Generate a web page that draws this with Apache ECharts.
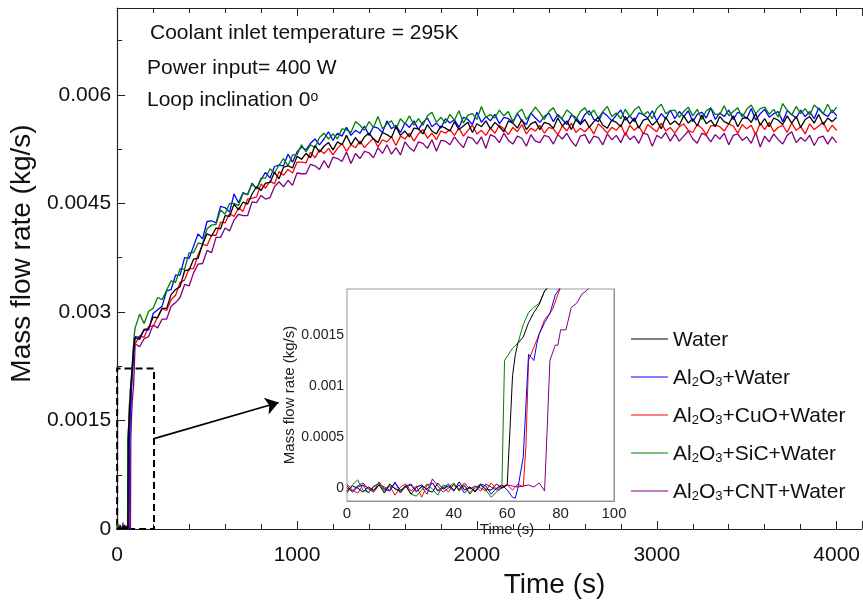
<!DOCTYPE html>
<html><head><meta charset="utf-8">
<script src="https://cdn.jsdelivr.net/npm/echarts@6/dist/echarts.min.js"></script>
<style>html,body{margin:0;padding:0;background:#fff}#c{width:863px;height:604px}</style>
</head><body><div id="c"></div>
<script>
const seriesNames = ['Water','Al2O3+Water','Al2O3+CuO+Water','Al2O3+SiC+Water','Al2O3+CNT+Water'];
const seriesColors = ['#000000','#0000ff','#ff0000','#008000','#800080'];
const mainTicksY = [0, 0.0015, 0.003, 0.0045, 0.006];
const insetTicksY = [0, 0.0005, 0.001, 0.0015];
const insetMinorY = [0,0.00025,0.0005,0.00075,0.001,0.00125,0.0015,0.00175];

const earlyTime = [0,2,4,6,8,10,12,14,16,18,20,22,24,26,28,30,32,34,36,38,40,42,44,46,48,50,52,54,56];
const mainTime = [100,125,150,175,200,225,250,275,300,325,
350,375,400,425,450,475,500,525,550,575,
600,625,650,675,700,725,750,775,800,825,
850,875,900,925,950,975,1000,1025,1050,1075,
1100,1125,1150,1175,1200,1225,1250,1275,1300,1325,
1350,1375,1400,1425,1450,1475,1500,1525,1550,1575,
1600,1625,1650,1675,1700,1725,1750,1775,1800,1825,
1850,1875,1900,1925,1950,1975,2000,2025,2050,2075,
2100,2125,2150,2175,2200,2225,2250,2275,2300,2325,
2350,2375,2400,2425,2450,2475,2500,2525,2550,2575,
2600,2625,2650,2675,2700,2725,2750,2775,2800,2825,
2850,2875,2900,2925,2950,2975,3000,3025,3050,3075,
3100,3125,3150,3175,3200,3225,3250,3275,3300,3325,
3350,3375,3400,3425,3450,3475,3500,3525,3550,3575,
3600,3625,3650,3675,3700,3725,3750,3775,3800,3825,
3850,3875,3900,3925,3950,3975,4000];

// Water
const waterEarly = [-0.00003,0.00002,0,-0.00004,0.00001,-0.00002,0.00003,-0.00005,0.00004,-0.00001,-0.00003,0.00002,-0.00006,0.00001,0.00003,-0.00002,-0.00004,0.00005,-0.00001,0.00002,-0.00003,0.00006,-0.00002,0.00001,-0.00004,0.00003,-0.00001,-0.00002,0.00004];
const waterRise = [[58,0],[60,0.00003],[61,0.00055],[62,0.0011],[63,0.0013],[64,0.00142],[66,0.00148],[68,0.00162],[70,0.00172],[72,0.0018],[74,0.00193],[76,0.00199],[80,0.00211],[85,0.00228],[90,0.00245],[95,0.00256]];
const waterMain = [0.00265,0.00262,0.00276,0.00277,0.00293,0.00292,0.00305,0.00305,0.00324,0.00331,
0.00335,0.00357,0.00358,0.00373,0.00374,0.00394,0.00408,0.00405,0.00416,0.00415,
0.00433,0.00432,0.00449,0.00441,0.00452,0.00449,0.00463,0.00473,0.00468,0.00478,
0.00479,0.00493,0.00484,0.00500,0.00502,0.00499,0.00515,0.00511,0.00519,0.00513,
0.00530,0.00521,0.00529,0.00534,0.00524,0.00535,0.00531,0.00544,0.00531,0.00541,
0.00532,0.00542,0.00547,0.00539,0.00534,0.00548,0.00545,0.00541,0.00556,0.00544,
0.00550,0.00542,0.00554,0.00553,0.00546,0.00559,0.00550,0.00546,0.00557,0.00554,
0.00550,0.00563,0.00552,0.00557,0.00562,0.00548,0.00560,0.00556,0.00564,0.00553,
0.00562,0.00556,0.00549,0.00564,0.00561,0.00554,0.00566,0.00552,0.00560,0.00563,
0.00552,0.00562,0.00560,0.00554,0.00568,0.00557,0.00564,0.00552,0.00566,0.00559,
0.00566,0.00555,0.00563,0.00569,0.00558,0.00554,0.00565,0.00562,0.00556,0.00570,
0.00560,0.00568,0.00554,0.00565,0.00567,0.00558,0.00564,0.00553,0.00569,0.00559,
0.00564,0.00558,0.00571,0.00561,0.00567,0.00557,0.00572,0.00560,0.00565,0.00556,
0.00570,0.00563,0.00560,0.00571,0.00556,0.00567,0.00569,0.00562,0.00574,0.00558,
0.00567,0.00556,0.00568,0.00565,0.00559,0.00571,0.00561,0.00570,0.00555,0.00566,
0.00570,0.00561,0.00573,0.00559,0.00568,0.00563,0.00569];

// Al2O3+Water
const aluEarly = [0.00002,-0.00004,0.00001,0.00003,-0.00005,0.00002,0.00004,-0.00001,-0.00003,0.00005,-0.00002,0.00001,0.00003,-0.00004,0.00002,-0.00001,0.00005,-0.00003,0,0.00004,-0.00002,0.00003,-0.00005,0.00001,-0.00003,0.00004,0.00002,-0.00006,0];
const aluRise = [[58,0.00003],[60,-0.00002],[62,-0.00009],[63,-0.0001],[64,0],[66,0.0003],[68,0.00131],[70,0.00125],[71,0.0014],[72,0.00151],[74,0.00162],[76,0.00171],[78,0.00189],[80,0.00197],[85,0.00215],[90,0.00238],[95,0.00252]];
const aluMain = [0.00266,0.00265,0.00275,0.00275,0.00298,0.00303,0.00308,0.00329,0.00331,0.00351,
0.00351,0.00375,0.00374,0.00391,0.00408,0.00401,0.00425,0.00426,0.00423,0.00446,
0.00444,0.00438,0.00463,0.00451,0.00465,0.00462,0.00478,0.00470,0.00483,0.00493,
0.00485,0.00501,0.00503,0.00502,0.00518,0.00507,0.00521,0.00528,0.00524,0.00533,
0.00539,0.00531,0.00539,0.00549,0.00537,0.00547,0.00543,0.00555,0.00544,0.00551,
0.00547,0.00557,0.00544,0.00556,0.00554,0.00548,0.00564,0.00553,0.00558,0.00548,
0.00561,0.00555,0.00564,0.00552,0.00562,0.00568,0.00556,0.00561,0.00554,0.00567,
0.00561,0.00566,0.00555,0.00569,0.00566,0.00559,0.00576,0.00562,0.00570,0.00564,
0.00573,0.00560,0.00569,0.00567,0.00562,0.00574,0.00564,0.00559,0.00575,0.00568,
0.00562,0.00570,0.00575,0.00563,0.00573,0.00566,0.00559,0.00572,0.00569,0.00561,
0.00573,0.00578,0.00566,0.00563,0.00576,0.00571,0.00564,0.00572,0.00579,0.00565,
0.00571,0.00563,0.00575,0.00573,0.00568,0.00578,0.00564,0.00574,0.00567,0.00579,
0.00567,0.00577,0.00570,0.00578,0.00563,0.00573,0.00576,0.00568,0.00582,0.00566,
0.00575,0.00570,0.00579,0.00566,0.00576,0.00573,0.00567,0.00581,0.00565,0.00574,
0.00580,0.00569,0.00574,0.00577,0.00563,0.00578,0.00573,0.00568,0.00579,0.00570,
0.00577,0.00567,0.00582,0.00574,0.00570,0.00579,0.00571];

// Al2O3+CuO+Water
const cuoEarly = [0.00004,-0.00002,-0.00005,0.00003,0,-0.00003,0.00006,-0.00001,0.00002,-0.00007,0.00001,0.00004,-0.00003,0.00002,-0.00009,0.00003,0.00005,-0.00002,0.00001,-0.00004,0.00004,-0.00001,0.00003,-0.00005,0.00002,0,-0.00003,0.00005,-0.00001];
const cuoRise = [[58,0.00002],[60,0.00003],[62,-0.00002],[64,0.00004],[66,0.00001],[67,0.0004],[68,0.00125],[70,0.00138],[72,0.00151],[74,0.00165],[75,0.00168],[77,0.00175],[80,0.00197],[85,0.00216],[90,0.00236],[95,0.0025]];
const cuoMain = [0.00256,0.00267,0.00265,0.00280,0.00280,0.00293,0.00305,0.00302,0.00317,0.00323,
0.00341,0.00344,0.00360,0.00360,0.00379,0.00393,0.00392,0.00406,0.00406,0.00424,
0.00423,0.00436,0.00432,0.00444,0.00439,0.00456,0.00457,0.00459,0.00477,0.00471,
0.00481,0.00477,0.00494,0.00489,0.00497,0.00492,0.00507,0.00507,0.00506,0.00521,
0.00513,0.00524,0.00519,0.00526,0.00517,0.00526,0.00533,0.00522,0.00531,0.00527,
0.00536,0.00527,0.00534,0.00540,0.00528,0.00538,0.00535,0.00542,0.00530,0.00543,
0.00539,0.00547,0.00536,0.00546,0.00552,0.00540,0.00547,0.00538,0.00550,0.00547,
0.00552,0.00544,0.00554,0.00543,0.00551,0.00558,0.00546,0.00551,0.00544,0.00554,
0.00547,0.00558,0.00553,0.00545,0.00555,0.00549,0.00559,0.00546,0.00554,0.00550,
0.00558,0.00547,0.00555,0.00553,0.00545,0.00557,0.00550,0.00561,0.00548,0.00554,
0.00549,0.00556,0.00546,0.00560,0.00554,0.00547,0.00555,0.00551,0.00559,0.00544,
0.00558,0.00551,0.00557,0.00546,0.00559,0.00554,0.00549,0.00561,0.00550,0.00555,
0.00547,0.00556,0.00560,0.00551,0.00548,0.00559,0.00554,0.00545,0.00557,0.00558,
0.00556,0.00550,0.00560,0.00557,0.00547,0.00559,0.00553,0.00558,0.00545,0.00561,
0.00552,0.00562,0.00549,0.00555,0.00558,0.00548,0.00561,0.00551,0.00556,0.00546,
0.00560,0.00552,0.00557,0.00562,0.00549,0.00558,0.00551];

// Al2O3+SiC+Water
const sicEarly = [-0.00005,0.00003,0.00008,-0.00002,-0.00004,0.00001,0.00005,-0.00003,0.00002,0,-0.00004,0.00003,-0.00006,-0.00008,-0.00002,0.00004,-0.00001,-0.00007,0.00003,0.00001,0.00005,-0.00003,0.00002,-0.00006,0,0.00004,-0.00002,-0.00009,-0.00004];
const sicRise = [[58,0],[59,0.00125],[60,0.00129],[62,0.00137],[64,0.00142],[66,0.0016],[68,0.00172],[70,0.00177],[72,0.00181],[74,0.00193],[76,0.00198],[80,0.00212],[85,0.00232],[90,0.00252],[95,0.00268]];
const sicMain = [0.00278,0.00297,0.00284,0.00301,0.00305,0.00320,0.00317,0.00330,0.00343,0.00341,
0.00360,0.00359,0.00382,0.00382,0.00395,0.00394,0.00415,0.00420,0.00421,0.00441,
0.00435,0.00450,0.00450,0.00447,0.00464,0.00462,0.00477,0.00470,0.00485,0.00485,
0.00498,0.00492,0.00503,0.00512,0.00502,0.00517,0.00517,0.00531,0.00521,0.00531,
0.00527,0.00541,0.00547,0.00539,0.00546,0.00539,0.00553,0.00552,0.00548,0.00563,
0.00558,0.00551,0.00563,0.00555,0.00570,0.00553,0.00560,0.00564,0.00553,0.00567,
0.00560,0.00571,0.00558,0.00567,0.00558,0.00571,0.00576,0.00562,0.00569,0.00561,
0.00573,0.00565,0.00578,0.00561,0.00572,0.00574,0.00566,0.00584,0.00569,0.00573,
0.00568,0.00579,0.00571,0.00577,0.00563,0.00575,0.00580,0.00566,0.00574,0.00583,
0.00575,0.00566,0.00577,0.00582,0.00570,0.00568,0.00579,0.00574,0.00565,0.00577,
0.00582,0.00572,0.00579,0.00568,0.00577,0.00584,0.00570,0.00575,0.00567,0.00580,
0.00570,0.00579,0.00584,0.00572,0.00577,0.00567,0.00581,0.00587,0.00574,0.00578,
0.00579,0.00569,0.00577,0.00583,0.00571,0.00580,0.00566,0.00578,0.00582,0.00573,
0.00573,0.00585,0.00571,0.00577,0.00582,0.00569,0.00580,0.00586,0.00574,0.00581,
0.00583,0.00573,0.00580,0.00569,0.00588,0.00579,0.00572,0.00584,0.00574,0.00581,
0.00572,0.00586,0.00580,0.00574,0.00587,0.00575,0.00583];

// Al2O3+CNT+Water
const cntEarly = [0,-0.00003,0.00002,0.00005,-0.00001,-0.00004,0.00003,0.00001,-0.00002,0.00006,-0.00005,0.00002,0.00004,-0.00003,0.00001,-0.00006,0.00009,0.00002,-0.00004,0,0.00003,-0.00002,0.00005,-0.00001,0.00002,-0.00003,0.00004,0.00001,-0.00002];
const cntRise = [[58,0],[60,0.00003],[62,0.00002],[64,0.00001],[66,0.00002],[68,0.00003],[70,0.00001],[72,0.00005],[74,-0.00003],[75,0.0006],[76,0.00125],[78,0.0014],[79,0.0014],[80,0.00155],[82,0.00155],[84,0.00177],[86,0.00181],[88,0.0019],[90,0.00194],[92,0.002],[95,0.0022]];
const cntMain = [0.00256,0.00252,0.00263,0.00266,0.00282,0.00278,0.00290,0.00290,0.00308,0.00313,
0.00320,0.00338,0.00336,0.00354,0.00366,0.00367,0.00385,0.00382,0.00403,0.00403,
0.00416,0.00412,0.00427,0.00435,0.00433,0.00433,0.00452,0.00451,0.00461,0.00456,
0.00458,0.00473,0.00480,0.00473,0.00482,0.00475,0.00492,0.00491,0.00491,0.00504,
0.00502,0.00497,0.00509,0.00499,0.00514,0.00512,0.00508,0.00521,0.00505,0.00519,
0.00512,0.00522,0.00520,0.00513,0.00527,0.00519,0.00531,0.00518,0.00527,0.00517,
0.00535,0.00527,0.00522,0.00535,0.00533,0.00526,0.00538,0.00522,0.00537,0.00536,
0.00531,0.00542,0.00534,0.00527,0.00542,0.00540,0.00532,0.00542,0.00526,0.00545,
0.00542,0.00534,0.00547,0.00537,0.00532,0.00543,0.00540,0.00529,0.00545,0.00536,
0.00534,0.00544,0.00542,0.00532,0.00545,0.00539,0.00547,0.00536,0.00529,0.00543,
0.00545,0.00533,0.00543,0.00541,0.00531,0.00546,0.00538,0.00544,0.00534,0.00548,
0.00538,0.00543,0.00533,0.00547,0.00545,0.00529,0.00544,0.00540,0.00548,0.00536,
0.00546,0.00536,0.00543,0.00550,0.00539,0.00533,0.00547,0.00544,0.00535,0.00545,
0.00539,0.00547,0.00531,0.00544,0.00546,0.00537,0.00542,0.00533,0.00548,0.00528,
0.00543,0.00535,0.00546,0.00538,0.00532,0.00544,0.00549,0.00534,0.00541,0.00536,
0.00544,0.00530,0.00541,0.00543,0.00532,0.00542,0.00534];

// annotation anchors in data units
const zoomBox = {t0: 0, t1: 205, v0: 0, v1: 0.00222};
const arrowFrom = [205, 0.00125];
const arrowTo = [898, 0.00175];

const FONT = 'Liberation Sans';
function pairs(times, vals) { const n = Math.min(times.length, vals.length); const out = []; for (let i = 0; i < n; i++) out.push([times[i], vals[i]]); return out; }
const seriesData = {
  'Water': {early: waterEarly, rise: waterRise, main: waterMain},
  'Al2O3+Water': {early: aluEarly, rise: aluRise, main: aluMain},
  'Al2O3+CuO+Water': {early: cuoEarly, rise: cuoRise, main: cuoMain},
  'Al2O3+SiC+Water': {early: sicEarly, rise: sicRise, main: sicMain},
  'Al2O3+CNT+Water': {early: cntEarly, rise: cntRise, main: cntMain}
};
const drawOrder = ['Al2O3+CNT+Water','Al2O3+CuO+Water','Al2O3+Water','Al2O3+SiC+Water','Water'];
const fmt = v => v === 0 ? '0' : String(+v.toFixed(5));

const series = [];
drawOrder.forEach(name => {
  const d = seriesData[name];
  const color = seriesColors[seriesNames.indexOf(name)];
  const early = pairs(earlyTime, d.early);
  const main = pairs(mainTime, d.main);
  const s = {
    name, type: 'line', xAxisIndex: 0, yAxisIndex: 0, symbol: 'none', animation: false,
    color, lineStyle: {color, width: 1.3},
    data: early.concat(d.rise, main)
  };
  if (name === 'Water') {
    s.markArea = {silent: true, label: {show: false},
      itemStyle: {color: 'rgba(0,0,0,0)', borderColor: '#000', borderWidth: 2, borderType: [7, 4]},
      data: [[{coord: [zoomBox.t0, zoomBox.v0]}, {coord: [zoomBox.t1, zoomBox.v1]}]]};
    s.markLine = {silent: true, symbol: ['none', 'arrow'], symbolSize: 13, label: {show: false},
      lineStyle: {color: '#000', width: 1.6, type: 'solid'},
      data: [[{coord: arrowFrom}, {coord: arrowTo}]]};
  }
  series.push(s);
  series.push({
    name, type: 'line', xAxisIndex: 2, yAxisIndex: 1, symbol: 'none', animation: false,
    color, lineStyle: {color, width: 1}, z: 5,
    data: early.concat(d.rise, main.slice(0, 2))
  });
});

const chart = echarts.init(document.getElementById('c'), null, {renderer: 'canvas'});
chart.setOption({
  backgroundColor: '#fff',
  animation: false,
  textStyle: {fontFamily: FONT},
  grid: [
    {left: 116, top: 8, right: 0, bottom: 65},
    {left: 347, top: 289, width: 267, height: 212, show: true, backgroundColor: '#fff', borderColor: '#9a9a9a', borderWidth: 1, z: 3}
  ],
  xAxis: [
    {gridIndex: 0, type: 'value', min: 0, max: 4140, interval: 1000,
      axisLine: {show: true, onZero: false, lineStyle: {color: '#222', width: 1.2}},
      axisTick: {show: true, inside: true, length: 8, lineStyle: {color: '#222'}},
      minorTick: {show: true, splitNumber: 5, length: 5, lineStyle: {color: '#222'}},
      splitLine: {show: false},
      axisLabel: {fontSize: 21, color: '#111', margin: 16, fontFamily: FONT, showMaxLabel: false, formatter: v => String(v)},
      name: 'Time (s)', nameLocation: 'middle', nameGap: 30,
      nameTextStyle: {fontSize: 28, color: '#111', fontFamily: FONT, padding: [0, 0, 0, 130]}},
    {gridIndex: 0, type: 'value', position: 'top', min: 0, max: 4140, interval: 1000,
      axisLine: {show: true, onZero: false, lineStyle: {color: '#222', width: 1.2}},
      axisTick: {show: true, inside: true, length: 8, lineStyle: {color: '#222'}},
      minorTick: {show: true, splitNumber: 5, length: 5, lineStyle: {color: '#222'}},
      splitLine: {show: false}, axisLabel: {show: false}},
    {gridIndex: 1, type: 'value', min: 0, max: 100, interval: 20,
      axisLine: {show: true, onZero: false, lineStyle: {color: '#888', width: 1}},
      axisTick: {show: true, inside: true, length: 4, lineStyle: {color: '#888'}},
      minorTick: {show: true, splitNumber: 4, length: 2, lineStyle: {color: '#888'}},
      splitLine: {show: false},
      axisLabel: {fontSize: 15, color: '#222', margin: 5, fontFamily: FONT},
      name: 'Time (s)', nameLocation: 'middle', nameGap: 20,
      nameTextStyle: {fontSize: 15, color: '#222', fontFamily: FONT, padding: [0, 0, 0, 53]}},
    {gridIndex: 1, type: 'value', position: 'top', min: 0, max: 100, interval: 20,
      axisLine: {show: true, onZero: false, lineStyle: {color: '#888', width: 1}},
      axisTick: {show: true, inside: true, length: 4, lineStyle: {color: '#888'}},
      minorTick: {show: true, splitNumber: 4, length: 2, lineStyle: {color: '#888'}},
      splitLine: {show: false}, axisLabel: {show: false}}
  ],
  yAxis: [
    {gridIndex: 0, type: 'value', min: 0, max: 0.0072, interval: 0.0015,
      axisLine: {show: true, onZero: false, lineStyle: {color: '#222', width: 1.2}},
      axisTick: {show: true, inside: true, length: 8, lineStyle: {color: '#222'}},
      minorTick: {show: true, splitNumber: 2, length: 5, lineStyle: {color: '#222'}},
      splitLine: {show: false},
      axisLabel: {fontSize: 21, color: '#111', margin: 6, fontFamily: FONT, customValues: mainTicksY, formatter: fmt},
      name: 'Mass flow rate (kg/s)', nameLocation: 'middle', nameGap: 78,
      nameTextStyle: {fontSize: 28, color: '#111', fontFamily: FONT, padding: [0, 0, 0, 30]}},
    {gridIndex: 1, type: 'value', min: -0.000127, max: 0.00195,
      axisLine: {show: true, onZero: false, lineStyle: {color: '#888', width: 1}},
      axisTick: {show: true, inside: true, length: 4, customValues: insetMinorY, lineStyle: {color: '#888'}},
      splitLine: {show: false},
      axisLabel: {fontSize: 14, color: '#222', margin: 3, fontFamily: FONT, customValues: insetTicksY, formatter: fmt},
      name: 'Mass flow rate (kg/s)', nameLocation: 'middle', nameGap: 44,
      nameTextStyle: {fontSize: 15, color: '#222', fontFamily: FONT}},
    {gridIndex: 1, type: 'value', position: 'right', min: -0.000127, max: 0.00195,
      axisLine: {show: true, onZero: false, lineStyle: {color: '#888', width: 1}},
      axisTick: {show: true, inside: true, length: 4, customValues: insetMinorY, lineStyle: {color: '#888'}},
      splitLine: {show: false}, axisLabel: {show: false}}
  ],
  legend: {
    data: seriesNames, orient: 'vertical', left: 626, top: 325, itemWidth: 37, itemHeight: 14, itemGap: 17,
    icon: 'path://M0,6 L37,6 L37,7 L0,7 Z',
    selectedMode: false,
    formatter: name => name.replace(/([^0-9]+)|(\d)/g, (m, a, d) => a ? '{n|' + a + '}' : '{sub|' + d + '}'),
    textStyle: {color: '#111', fontFamily: FONT,
      rich: {n: {fontSize: 21, lineHeight: 24, verticalAlign: 'bottom', fontFamily: FONT, color: '#111'},
             sub: {fontSize: 13, lineHeight: 12, verticalAlign: 'bottom', fontFamily: FONT, color: '#111'}}}
  },
  graphic: [
    {type: 'text', left: 150, top: 23, style: {text: 'Coolant inlet temperature = 295K', fontSize: 21, fontFamily: FONT, fill: '#111'}},
    {type: 'text', left: 147, top: 58, style: {text: 'Power input= 400 W', fontSize: 21, fontFamily: FONT, fill: '#111'}},
    {type: 'text', left: 147, top: 90, style: {text: '{n|Loop inclination 0}{sup|o}', fill: '#111',
      rich: {n: {fontSize: 21, lineHeight: 26, verticalAlign: 'top', fontFamily: FONT},
             sup: {fontSize: 14, lineHeight: 14, verticalAlign: 'top', fontFamily: FONT}}}}
  ],
  series
});
</script></body></html>
